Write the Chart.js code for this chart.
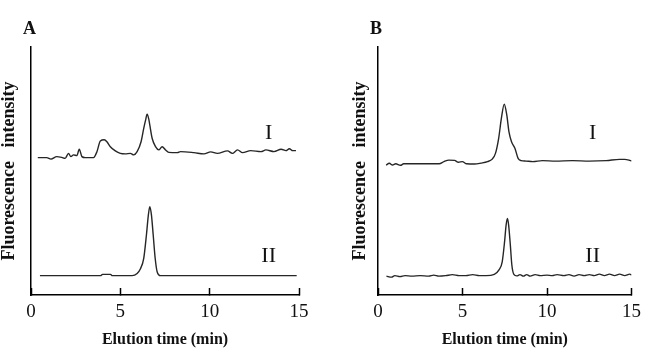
<!DOCTYPE html>
<html>
<head>
<meta charset="utf-8">
<script src="https://cdn.jsdelivr.net/npm/chart.js@4/dist/chart.umd.min.js"></script>
<style>
    body { margin: 0; background: #fff; }
    .panel { position: absolute; top: 0; width: 327px; height: 360px; }
    #panelA { left: 0; }
    #panelB { left: 327px; }
</style>
</head>
<body>
<div class="panel" id="panelA"><canvas id="chartA" width="327" height="360"></canvas></div>
<div class="panel" id="panelB"><canvas id="chartB" width="327" height="360"></canvas></div>
<script>
// Tempo de eluicao (min) e intensidade (u.a.)
const timeA1 = [0.38, 0.88, 1.12, 1.44, 1.72, 1.91, 2.1, 2.23, 2.38, 2.57, 2.7, 2.85, 3.03, 3.5, 3.69, 3.88, 4.1, 4.25, 4.44, 4.72, 5.0, 5.28, 5.56, 5.75, 5.94, 6.16, 6.31, 6.41, 6.5, 6.59, 6.65, 6.78, 6.97, 7.15, 7.34, 7.53, 7.71, 8.19, 8.37, 9.12, 9.68, 10.06, 10.43, 11.0, 11.27, 11.56, 11.84, 12.3, 12.87, 13.15, 13.6, 14.0, 14.27, 14.46, 14.65, 14.83];
const intA1 = [55.4, 55.4, 54.8, 55.8, 55.5, 55.1, 57.1, 55.8, 56.5, 56.2, 58.8, 55.8, 55.4, 55.4, 57.8, 62.1, 62.6, 61.8, 59.8, 58.1, 57.1, 56.9, 57.1, 56.5, 57.8, 61.8, 67.2, 70.4, 72.9, 71.0, 68.5, 63.2, 59.8, 58.5, 59.8, 58.5, 57.5, 57.4, 57.8, 57.4, 56.9, 57.7, 57.1, 58.1, 57.1, 58.5, 57.4, 58.2, 57.8, 58.5, 57.8, 58.8, 58.2, 59.0, 58.2, 58.2];

const timeA2 = [0.5, 2.0, 3.9, 4.0, 4.45, 4.55, 5.66, 5.94, 6.12, 6.31, 6.46, 6.57, 6.65, 6.74, 6.84, 6.95, 7.06, 7.25, 9.0, 12.0, 14.87];
const intA2 = [7.8, 7.8, 7.8, 8.3, 8.3, 7.8, 7.8, 8.7, 10.5, 14.8, 24.2, 32.3, 35.6, 32.3, 24.2, 14.8, 9.4, 7.8, 7.8, 7.8, 7.8];

const timeB1 = [0.48, 0.67, 0.86, 1.05, 1.33, 1.52, 2.5, 3.62, 3.9, 4.19, 4.53, 4.76, 4.99, 5.24, 5.71, 6.1, 6.48, 6.76, 6.95, 7.14, 7.3, 7.47, 7.62, 7.75, 7.9, 8.1, 8.29, 8.47, 8.76, 9.16, 9.73, 10.5, 11.5, 12.5, 13.5, 14.3, 14.6, 14.85, 15.0];
const intB1 = [52.4, 53.1, 52.4, 52.9, 52.3, 52.9, 52.9, 52.9, 53.8, 54.4, 54.3, 53.5, 53.8, 52.9, 52.8, 53.2, 53.8, 54.8, 57.1, 63.2, 71.2, 76.9, 72.6, 65.8, 61.8, 59.2, 55.1, 54.2, 54.0, 53.8, 54.2, 54.0, 54.2, 54.0, 54.2, 54.7, 54.7, 54.4, 54.0];

const timeB2 = [0.5, 0.8, 1.0, 1.3, 1.6, 2.0, 2.5, 3.0, 3.3, 3.6, 4.0, 4.4, 4.8, 5.2, 5.6, 6.0, 6.4, 6.88, 7.16, 7.35, 7.49, 7.58, 7.66, 7.73, 7.83, 7.92, 8.04, 8.21, 8.4, 8.6, 8.8, 9.0, 9.3, 9.6, 10.0, 10.3, 10.6, 11.0, 11.3, 11.6, 11.9, 12.2, 12.5, 12.8, 13.1, 13.4, 13.7, 14.0, 14.3, 14.6, 14.9, 15.0];
const intB2 = [7.6, 7.2, 7.8, 7.4, 7.8, 7.6, 7.8, 7.6, 8.0, 7.6, 7.8, 8.2, 7.8, 7.8, 8.2, 7.8, 7.8, 8.3, 10.1, 13.4, 21.5, 28.2, 30.9, 28.2, 20.2, 12.1, 8.3, 7.7, 8.2, 7.6, 8.2, 7.6, 8.2, 7.8, 8.0, 7.8, 8.2, 7.8, 8.2, 7.6, 8.2, 7.8, 8.2, 7.8, 8.4, 7.8, 8.4, 7.8, 8.4, 7.8, 8.4, 8.0];

// Eixo x e rotulos das curvas
const xTicks = [0, 5, 10, 15];
const traceNames = ['I', 'II'];
const traceLabelXA = [13.3, 13.3];
const traceLabelXB = [12.7, 12.7];
const traceLabelY = [65.3, 15.7];

const SERIF = "'Liberation Serif', 'Times New Roman', serif";

function toPoints(xs, ys) {
    return xs.map((x, i) => ({ x: x, y: ys[i] }));
}

// Desenha a letra do painel e os rotulos I / II
const labelsPlugin = {
    id: 'panelLabels',
    afterDatasetsDraw(chart, args, opts) {
        const ctx = chart.ctx;
        const xs = chart.scales.x;
        const ys = chart.scales.y;
        ctx.save();
        ctx.fillStyle = '#111';
        ctx.textBaseline = 'middle';
        ctx.textAlign = 'center';
        ctx.font = '22px ' + SERIF;
        opts.names.forEach((name, i) => {
            ctx.fillText(name, xs.getPixelForValue(opts.xs[i]), ys.getPixelForValue(opts.ys[i]));
        });
        ctx.textAlign = 'left';
        ctx.font = 'bold 18px ' + SERIF;
        ctx.fillText(opts.letter, chart.chartArea.left - 8, 29);
        ctx.restore();
    }
};

function createPanel(canvasId, cfg) {
    const lineStyle = {
        borderColor: '#262626',
        borderWidth: 1.4,
        pointRadius: 0,
        fill: false,
        cubicInterpolationMode: 'monotone'
    };

    return new Chart(document.getElementById(canvasId), {
        type: 'line',
        data: {
            datasets: [
                Object.assign({ label: 'I', data: toPoints(cfg.t1, cfg.y1) }, lineStyle),
                Object.assign({ label: 'II', data: toPoints(cfg.t2, cfg.y2) }, lineStyle)
            ]
        },
        options: {
            responsive: false,
            animation: false,
            layout: {
                padding: { left: cfg.padLeft, right: cfg.padRight, top: 47, bottom: 0 }
            },
            plugins: {
                legend: { display: false },
                tooltip: { enabled: false },
                panelLabels: {
                    letter: cfg.letter,
                    names: traceNames,
                    xs: cfg.labelX,
                    ys: traceLabelY
                }
            },
            scales: {
                x: {
                    type: 'linear',
                    min: 0,
                    max: 15,
                    afterBuildTicks: scale => {
                        scale.ticks = xTicks.map(v => ({ value: v }));
                    },
                    afterFit: scale => { scale.height = 65; },
                    grid: {
                        display: true,
                        drawOnChartArea: false,
                        drawTicks: true,
                        tickLength: -7,
                        tickColor: '#000',
                        tickWidth: 1.5
                    },
                    border: { display: true, color: '#000', width: 1.5 },
                    ticks: {
                        color: '#111',
                        padding: 13,
                        maxRotation: 0,
                        font: { family: SERIF, size: 19 }
                    },
                    title: {
                        display: true,
                        text: 'Elution time (min)',
                        color: '#111',
                        padding: { top: 0, bottom: 11 },
                        font: { family: SERIF, size: 16, weight: 'bold' }
                    }
                },
                y: {
                    type: 'linear',
                    min: 0,
                    max: 100,
                    afterFit: scale => { scale.width = cfg.axisWidth; },
                    grid: { display: false },
                    border: { display: true, color: '#000', width: 1.5 },
                    ticks: { display: false },
                    title: {
                        display: true,
                        text: 'Fluorescence   intensity',
                        color: '#111',
                        padding: { top: 0, bottom: 0 },
                        font: { family: SERIF, size: 18, weight: 'bold', lineHeight: 1 }
                    }
                }
            }
        },
        plugins: [labelsPlugin]
    });
}

document.addEventListener('DOMContentLoaded', () => {
    createPanel('chartA', {
        letter: 'A', t1: timeA1, y1: intA1, t2: timeA2, y2: intA2,
        labelX: traceLabelXA, padLeft: 0, padRight: 28, axisWidth: 31
    });
    createPanel('chartB', {
        letter: 'B', t1: timeB1, y1: intB1, t2: timeB2, y2: intB2,
        labelX: traceLabelXB, padLeft: 24, padRight: 13, axisWidth: 27
    });
});
</script>
</body>
</html>
